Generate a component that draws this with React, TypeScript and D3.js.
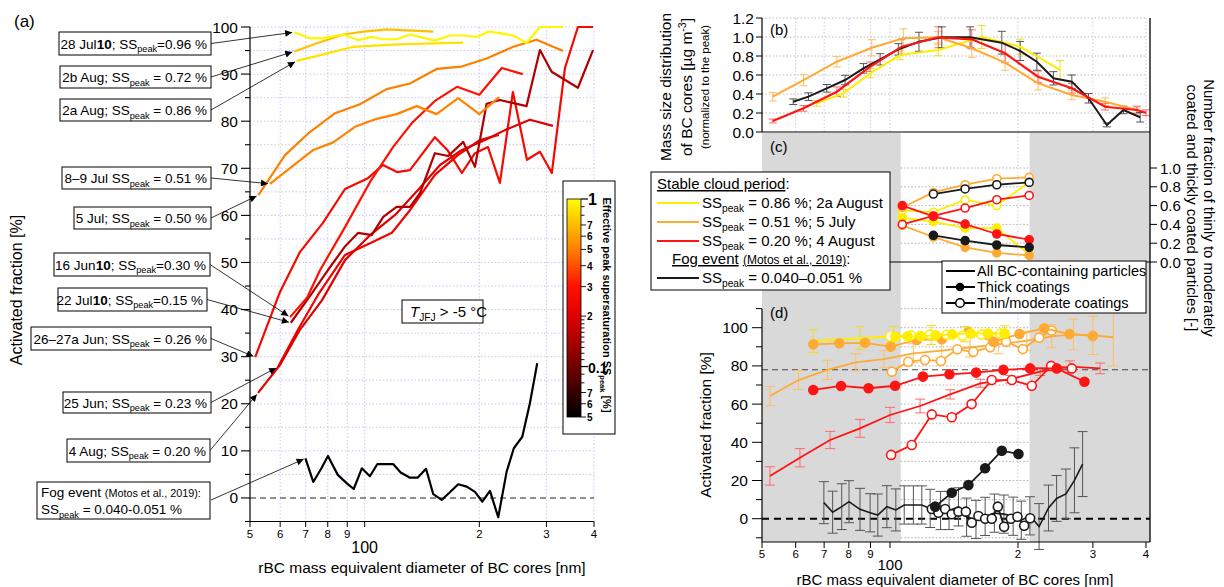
import React from "react";
import * as d3 from "d3";

type Pt = [number, number];

// ---------- (a) activated fraction [%] vs rBC core diameter [nm], one array per event
const jul28_10: Pt[] = [[65.3,98.9],[71.1,97.7],[77.1,97.6],[87.9,98.4],[96.2,97.2],[104.3,97.9],[111.9,97.4],[121.3,97.4],[131.5,98.4],[141.1,97.8],[152.9,97.1],[167.4,98.2],[181.5,98.2],[196.8,97.9],[211.2,99.0],[226.5,98.7],[245.5,98.2],[266,96.6],[288.5,100],[332,100]];
const aug2b: Pt[] = [[65.3,94.8],[74.7,96.5],[87.9,98.4],[99.2,99.0],[114.2,99.5],[151.4,99.0]];
const aug2a: Pt[] = [[66.3,92.8],[77.9,94.2],[93.4,95.8],[121.3,96.3],[181.5,96.7]];
const jul5: Pt[] = [[52.6,64.3],[61.8,72.8],[71.1,77.4],[83.6,81.7],[97.2,83.6],[114.2,86.8],[131.5,88.0],[154.5,91.1],[179.7,91.6],[209,93.3],[245.5,95.8],[282.7,97.3],[332,94.9]];
const jul8_9: Pt[] = [[56.4,66.7],[73.3,73.9],[82.7,75.5],[94.3,78.8],[107.5,80.5],[121.3,81.5],[137,83.2],[154.5,81.5],[176,84.9],[200,81.5],[225.4,85.1]];
const jun16_10: Pt[] = [[63.7,38.4],[70.6,42.5],[76.4,48.4],[88.8,57.5],[103.3,67.1],[118.7,74.5],[133,79.6],[152.9,84.3],[174.7,87.3],[200,85.6],[229,91.3],[260,90.0]];
const jul22_10: Pt[] = [[64,37.2],[71.9,42.9],[80.1,48.4],[88.8,53.4],[96.2,56.3],[104.3,55.8],[111.9,59.7],[121.3,61.8],[131.5,61.8],[139.7,64.7],[152.9,73.2],[165.7,72.6],[181.5,75.6],[194.8,70.3],[209,83.7],[226.5,84.5],[266,83.2],[288.5,95.1],[309.6,90.5],[363,87.1],[397.6,95.1]];
const jun26_27a: Pt[] = [[51.6,29.9],[59.9,43.7],[67.6,52.2],[77.7,58.4],[88.8,65.6],[102,67.9],[111.7,70.7],[121.6,69.2],[131.5,69.6],[152.9,76.6],[165.5,73.7],[180,69.0],[194.8,73.2],[210.7,74.5],[226.5,66.9],[245,86.2],[266.7,71.8],[288.5,73.5],[310,69.0],[335.6,91.3],[362.9,100],[397.6,100]];
const jun25: Pt[] = [[59.2,27.8],[66.8,35.7],[75.4,43.1],[88.8,51.6],[103.3,54.1],[117.9,56.3],[131.5,61.1],[152.9,68.6],[175.7,72.8],[200.8,76.0],[225,77.1]];
const aug4: Pt[] = [[52.5,22.3],[59.9,28.2],[67.6,35.7],[77.3,42.0],[88.8,50.5],[103.3,55.8],[120.2,60.1],[138,65.4],[157.7,70.7],[180,73.9],[207,76.0],[233.5,78.1],[271.5,80.3],[312,79.0]];
const fog: Pt[] = [[69.9,8.4],[73.3,3.4],[77,6.3],[80.1,8.9],[85,4.9],[89.8,3.1],[93.6,1.9],[98.3,6.3],[103.2,4.6],[108,7.2],[113.5,7.2],[118.8,7.2],[124.3,5.4],[131.5,4.3],[137.7,4.3],[144.9,6.2],[151.4,0.8],[159.3,-0.4],[167.4,1.2],[176,2.9],[185.3,2.4],[194.8,1.3],[203.6,-0.8],[213.3,1.5],[224.2,-4.1],[235.9,5.6],[246.5,10.6],[259.3,13.0],[271.5,20.1],[283.8,28.6]];
const fogErr = [11,11,12,11,11,10,11,11,11,10,10,10,10,10,10,10,10,10,10,10,10,10,10,10,12,12,12,13,17,17];

// effective peak supersaturation of each event [%]
const eventSeries = [jun26_27a, jun25, aug4, jul22_10, jun16_10, jul8_9, jul5, aug2b, aug2a, jul28_10, fog];
const eventSS = [0.26, 0.23, 0.20, 0.15, 0.30, 0.51, 0.50, 0.72, 0.86, 0.96, 0.045];

// ---------- (b) normalized mass size distribution
const bOrange: Pt[] = [[53,0.372],[62.6,0.547],[75,0.74],[90.6,0.887],[107.5,0.986],[129.8,0.997],[155.7,0.881],[186.5,0.73],[223,0.513],[267.7,0.39],[320.6,0.319],[380.8,0.232]];
const bOrangeErr = [0.045,0.06,0.055,0.085,0.1,0.06,0.095,0.08,0.07,0.05,0.04,0.03];
const bBlack: Pt[] = [[59.2,0.319],[64.3,0.372],[71,0.46],[78.4,0.547],[86.6,0.67],[94.8,0.765],[104.6,0.87],[117,0.95],[132.4,0.997],[154.3,0.997],[183.2,0.94],[202.3,0.853],[221.5,0.74],[242.3,0.565],[267.7,0.53],[293,0.355],[323.6,0.074],[354,0.232],[387.6,0.155]];
const bBlackErr = [0.03,0.04,0.04,0.05,0.05,0.06,0.06,0.1,0.11,0.11,0.12,0.1,0.09,0.07,0.07,0.05,0.02,0.04,0.05];
const bRed: Pt[] = [[53,0.116],[62.6,0.249],[75,0.424],[89.8,0.687],[106.6,0.898],[129.9,0.997],[155.7,0.976],[186.5,0.828],[223,0.582],[267.7,0.46],[320.6,0.266],[380.8,0.232],[400,0.203]];
const bRedErr = [0.02,0.03,0.05,0.05,0.08,0.11,0.1,0.1,0.06,0.05,0.035,0.04,0.03];
const bYellow: Pt[] = [[67.3,0.302],[77.7,0.407],[90,0.62],[105.6,0.81],[129.9,0.863],[164.4,1.0],[202.3,0.898],[251.2,0.653]];
const bYellowErr = [0.03,0.04,0.05,0.05,0.06,0.12,0.08,0.1];

// ---------- (c) number fraction of thin / thick coated particles
const cDiam = [106.9, 126.5, 150.2, 178.3, 212.5];
const cYellowThick = [0.47, 0.43, 0.36, 0.36, 0.08];
const cYellowThin = [0.55, 0.53, 0.66, 0.60, 0.85];
const cOrangeThick = [0.39, 0.266, 0.156, 0.096, 0.07];
const cOrangeThin = [0.58, 0.74, 0.822, 0.886, 0.9];
const cRedThick = [0.6, 0.485, 0.404, 0.298, 0.237];
const cRedThin = [0.4, 0.49, 0.574, 0.663, 0.708];
const cBlackThick = [null, 0.283, 0.227, 0.181, 0.156];
const cBlackThin = [null, 0.723, 0.777, 0.822, 0.847];

// ---------- (d) activated fraction per coating class
const dYellowAll: Pt[] = [[66,93],[85,94.5],[102,95.5],[125,96.2],[150,96.6],[186,97]];
const dYellowAllErr = [6,6,5,5,4,4];
const dYellowThick: Pt[] = [[103,95.2],[110,95.5],[118,95.6],[128,96],[140,96.5],[155,97],[170,97],[186,97]];
const dYellowThin: Pt[] = [[100,95.5],[112,96],[124,96.4],[136,96.3],[148,95.8],[164,96.5],[182,97]];
const dOrangeAll: Pt[] = [[52.2,64.2],[60.9,72.6],[71.3,77.9],[83.1,81.9],[96.8,83.5],[113.5,86.6],[132.4,88],[154.3,89.7],[179.8,91.3],[209.8,93.2],[240,95.5],[270,96.5],[300,96],[335,95]];
const dOrangeAllErr = [5,5,5,4.5,4.5,5,5,5,5,5,6,8,10,15];
const dOrangeThick: Pt[] = [[66,91.3],[76,91.8],[87.4,92.1],[100.4,90.1],[115.6,93.6],[132.4,93.9],[152.9,97.6],[175,92.7],[201.6,96.7],[230.4,99.7],[264.3,96.7],[300,95.7]];
const dOrangeThin: Pt[] = [[101,77],[110.4,82.2],[120.9,83.1],[131.7,82.6],[144,88.7],[157,87.4],[172,89.7],[187.5,92.7],[205.3,88.8],[224.3,94.8],[240,98.5]];
const dRedAll: Pt[] = [[52.2,22.4],[61.4,31.9],[72.3,41.2],[85,47.3],[100,54.3],[117.7,59],[138.5,65.1],[163,70.9],[191.7,73],[225.5,77],[265,79.6],[312,78.7]];
const dRedAllErr = [4.8,4.8,4.5,4.7,4,3.6,2.4,2.1,2,2,3,2.8];
const dRedThick: Pt[] = [[66,67.4],[76.7,69.5],[89,68.3],[102.8,69.6],[119.5,74.4],[138,75.6],[159.4,76.5],[184.8,77.9],[213.6,78.7],[246.8,78.7],[286.6,71.7]];
const dRedThin: Pt[] = [[100.6,33.4],[112.5,38.6],[125.4,54.6],[139.7,53.1],[155.6,60],[173.5,72.6],[193.4,72.6],[215.5,69.6],[239.3,80],[267.6,78.7]];
const dFogThick: Pt[] = [[127.7,6.3],[139.7,13.6],[152.9,17.6],[167.4,26.4],[183.2,35.6],[200.5,33.9]];
const dFogThin: Pt[] = [[125.4,5.1],[130,3.1],[134.8,5.1],[139.7,2.3],[144.9,3.7],[150.8,3.7],[155.7,-2.1],[161.4,1.4],[167.4,0],[173.5,0],[179.3,6.3],[185.5,-4.2],[192.4,0],[199.4,1],[206.8,-3.7],[213.6,0.2]];

// axis ticks
const xTicks = [50, 60, 70, 80, 90, 100, 200, 300, 400];
const xTickLabels = ["5", "6", "7", "8", "9", "", "2", "3", "4"];
const stableBand = [106, 213]; // unshaded diameter range in (c)/(d)

const FONT = "Liberation Sans, Arial, Helvetica, sans-serif";
const C_YEL = "#ffee00", C_ORA = "#ffaa33", C_RED = "#ff1414", C_BLK = "#1a1a1a";
const E_YEL = "#eedd22", E_ORA = "#ffbe66", E_RED = "#ff6a6a", E_BLK = "#555";
const GRID = "#c8c8f0";

type Part = string | { t: string; sub?: boolean; sup?: boolean; b?: boolean; i?: boolean; sm?: boolean; u?: boolean };

function Rich({ x, y, parts, size = 15, anchor = "start", weight, transform, fill = "#000" }: any) {
  let shift = 0;
  const spans = (parts as Part[]).map((p, k) => {
    const o = typeof p === "string" ? { t: p } : p;
    const want = o.sub ? size * 0.28 : o.sup ? -size * 0.4 : 0;
    const dy = want - shift;
    shift = want;
    return (
      <tspan key={k} dy={dy ? dy : undefined}
        fontSize={o.sub || o.sup ? size * 0.68 : o.sm ? size * 0.8 : undefined}
        fontWeight={o.b ? "bold" : undefined}
        fontStyle={o.i ? "italic" : undefined}
        textDecoration={o.u ? "underline" : undefined}>{o.t}</tspan>
    );
  });
  return <text x={x} y={y} fontSize={size} textAnchor={anchor} fontWeight={weight} transform={transform} fill={fill}>{spans}</text>;
}

function errBars(pts: Pt[], err: number[], x: any, y: any, color: string, cap: number, key: string) {
  return pts.map((p, i) => {
    const cx = x(p[0]), y1 = y(p[1] - err[i]), y2 = y(p[1] + err[i]);
    return (
      <g key={key + i} stroke={color} strokeWidth={1}>
        <line x1={cx} x2={cx} y1={y1} y2={y2} />
        <line x1={cx - cap} x2={cx + cap} y1={y1} y2={y1} />
        <line x1={cx - cap} x2={cx + cap} y1={y2} y2={y2} />
      </g>
    );
  });
}

const SS = (rest: string): Part[] => ["SS", { t: "peak", sub: true }, rest];

export default function App() {
  // ---------- scales
  const xA = d3.scaleLog().domain([50, 400]).range([250, 594]);
  const yA = d3.scaleLinear().domain([-5, 100]).range([521.5, 27]);
  const xB = d3.scaleLog().domain([50, 400]).range([762, 1146]);
  const yB = d3.scaleLinear().domain([0, 1.2]).range([132, 18]);
  const yC = d3.scaleLinear().domain([0, 1]).range([262, 168]);
  const yD = d3.scaleLinear().domain([0, 100]).range([518.7, 327.7]);

  const ssNorm = d3.scaleLog().domain([0.05, 1]).range([0, 1]).clamp(true);
  const cmap = d3.scaleLinear<string>().domain([0, 0.231, 0.46, 0.6, 0.77, 0.89, 1])
    .range(["#000000", "#700000", "#e00000", "#ff1000", "#ff8000", "#ffc000", "#ffff00"]);
  const ssColor = (v: number) => cmap(ssNorm(v));
  const cbY = d3.scaleLog().domain([0.05, 1]).range([417, 199]);

  const lineA = d3.line<Pt>().x(d => xA(d[0])).y(d => yA(d[1]));
  const lineB = d3.line<Pt>().x(d => xB(d[0])).y(d => yB(d[1]));
  const lineD = d3.line<Pt>().x(d => xB(d[0])).y(d => yD(d[1]));
  const cPts = (vals: (number | null)[]): Pt[] =>
    cDiam.map((dd, i) => [dd, vals[i]] as any).filter(p => p[1] !== null);
  const lineC = d3.line<Pt>().x(d => xB(d[0])).y(d => yC(d[1]));

  // annotation boxes of (a): layout only, arrow targets come from the data
  const anno = [
    { s: jul28_10, box: [59, 32, 152, 23], parts: ["28 Jul", { t: "10", b: true }, "; ", ...SS("=0.96 %")] },
    { s: aug2b, box: [60, 66, 151, 22], parts: ["2b Aug; ", ...SS(" = 0.72 %")] },
    { s: aug2a, box: [60, 99, 151, 22], parts: ["2a Aug; ", ...SS(" = 0.86 %")] },
    { s: jul8_9, box: [62, 167, 149, 22], parts: ["8\u20139 Jul ", ...SS(" = 0.51 %")] },
    { s: jul5, box: [74, 207, 137, 22], parts: ["5 Jul; ", ...SS(" = 0.50 %")] },
    { s: jun16_10, box: [54, 253, 156, 23], parts: ["16 Jun", { t: "10", b: true }, "; ", ...SS("=0.30 %")] },
    { s: jul22_10, box: [58, 288, 149, 23], parts: ["22 Jul", { t: "10", b: true }, "; ", ...SS("=0.15 %")] },
    { s: jun26_27a, box: [31, 327, 180, 23], parts: ["26\u201327a Jun; ", ...SS(" = 0.26 %")] },
    { s: jun25, box: [63, 392, 148, 21], parts: ["25 Jun; ", ...SS(" = 0.23 %")] },
    { s: aug4, box: [67, 439, 143, 23], parts: ["4 Aug; ", ...SS(" = 0.20 %")] },
  ];

  const arrow = (x1: number, y1: number, p: Pt, key: string) => {
    const tx = xA(p[0]), ty = yA(p[1]);
    const dx = tx - x1, dy = ty - y1, L = Math.hypot(dx, dy);
    return <line key={key} x1={x1} y1={y1} x2={tx - (dx / L) * 2} y2={ty - (dy / L) * 2}
      stroke="#000" strokeWidth={0.8} markerEnd="url(#arr)" />;
  };

  const gridYA = d3.range(-5, 101, 5);
  const cbTicks = [0.9, 0.8, 0.7, 0.6, 0.5, 0.4, 0.3, 0.2, 0.19, 0.18, 0.17, 0.16, 0.15, 0.14, 0.13, 0.12, 0.11, 0.09, 0.08, 0.07, 0.06, 0.05];
  const cbLabels: Record<string, string> = { "0.7": "7", "0.6": "6", "0.5": "5", "0.4": "4", "0.3": "3", "0.2": "2", "0.07": "7", "0.06": "6", "0.05": "5" };

  const bandX0 = xB(stableBand[0]), bandX1 = xB(stableBand[1]);

  const circles = (pts: Pt[], y: any, color: string, open: boolean, key: string, r = 4.3) =>
    pts.map((p, i) => (
      <circle key={key + i} cx={xB(p[0])} cy={y(p[1])} r={r}
        fill={open ? "#fff" : color} stroke={color} strokeWidth={1.6} />
    ));

  return (
    <svg width={1224} height={587} viewBox="0 0 1224 587"
      style={{ position: "absolute", left: 0, top: 0, background: "#fff" }} fontFamily={FONT}>
      <defs>
        <marker id="arr" viewBox="0 0 10 10" refX={10} refY={5} markerWidth={9} markerHeight={7}
          markerUnits="userSpaceOnUse" orient="auto">
          <path d="M0,0 L10,5 L0,10 z" fill="#000" />
        </marker>
        <linearGradient id="ssgrad" x1="0" y1="1" x2="0" y2="0">
          {d3.range(0, 21).map(i => <stop key={i} offset={i / 20} stopColor={cmap(i / 20)} />)}
        </linearGradient>
      </defs>

      {/* ================= panel (a) ================= */}
      <text x={14} y={27} fontSize={17}>(a)</text>
      <g stroke={GRID} strokeWidth={1} strokeDasharray="1.5,2">
        {gridYA.filter(v => v !== 0).map(v => <line key={"gy" + v} x1={250} x2={594} y1={yA(v)} y2={yA(v)} />)}
        {xTicks.slice(1).map(v => <line key={"gx" + v} x1={xA(v)} x2={xA(v)} y1={27} y2={521.5} />)}
      </g>
      <line x1={250} x2={594} y1={yA(0)} y2={yA(0)} stroke="#222" strokeWidth={1.1} strokeDasharray="6,4" />
      {eventSeries.map((s, i) => (
        <path key={"ev" + i} d={lineA(s) || ""} fill="none" stroke={ssColor(eventSS[i])}
          strokeWidth={2.2} strokeLinejoin="round" />
      ))}
      {/* axes */}
      <line x1={250} x2={250} y1={27} y2={521.5} stroke="#000" strokeWidth={1.2} />
      <line x1={250} x2={594} y1={521.5} y2={521.5} stroke="#000" strokeWidth={1.2} />
      {gridYA.map(v => (
        <line key={"ta" + v} x1={v % 10 === 0 ? 241 : 245} x2={250} y1={yA(v)} y2={yA(v)} stroke="#000" strokeWidth={1.1} />
      ))}
      {d3.range(0, 101, 10).map(v => (
        <text key={"la" + v} x={238} y={yA(v) + 5.5} fontSize={15.5} textAnchor="end">{v}</text>
      ))}
      {xTicks.map((v, i) => (
        <g key={"xa" + v}>
          <line x1={xA(v)} x2={xA(v)} y1={521.5} y2={527} stroke="#000" />
          <text x={xA(v)} y={538} fontSize={11.5} textAnchor="middle">{xTickLabels[i]}</text>
        </g>
      ))}
      <text x={xA(100)} y={553} fontSize={16} textAnchor="middle">100</text>
      <text x={422} y={573} fontSize={15.5} textAnchor="middle">rBC mass equivalent diameter of BC cores [nm]</text>
      <text transform="translate(22,290) rotate(-90)" fontSize={16} textAnchor="middle">Activated fraction [%]</text>

      {/* annotation boxes */}
      {anno.map((a, i) => {
        const [bx, by, bw, bh] = a.box;
        return (
          <g key={"an" + i}>
            {arrow(bx + bw, by + bh / 2, a.s[0], "ar" + i)}
            <rect x={bx} y={by} width={bw} height={bh} fill="#fff" stroke="#000" strokeWidth={1} />
            <Rich x={bx + bw - 4} y={by + bh / 2 + 5} parts={a.parts} size={13.5} anchor="end" />
          </g>
        );
      })}
      {arrow(211, 500, fog[0], "arfog")}
      <rect x={37} y={482} width={173} height={37} fill="#fff" stroke="#000" />
      <Rich x={41} y={497} size={13.5} parts={["Fog event ", { t: "(Motos et al., 2019):", sm: true }]} />
      <Rich x={41} y={514} size={13.5} parts={SS(" = 0.040-0.051 %")} />

      {/* temperature box */}
      <rect x={402} y={300} width={81} height={23} fill="#fff" stroke="#000" />
      <Rich x={410} y={317} size={15} parts={[{ t: "T", i: true }, { t: "JFJ", sub: true }, " > -5 \u00b0C"]} />

      {/* colour bar */}
      <rect x={563} y={181} width={52} height={253} fill="#fff" stroke="#000" />
      <rect x={567} y={199} width={14} height={218} fill="url(#ssgrad)" stroke="#000" strokeWidth={0.8} />
      {[1, 0.1].map(v => (
        <g key={"cbm" + v}>
          <line x1={581} x2={588} y1={cbY(v)} y2={cbY(v)} stroke="#000" strokeWidth={1.2} />
          <text x={588} y={cbY(v) + 6} fontSize={v === 1 ? 16 : 14} fontWeight="bold">{v === 1 ? "1" : "0.1"}</text>
        </g>
      ))}
      {cbTicks.map(v => (
        <g key={"cbt" + v}>
          <line x1={581} x2={cbLabels[String(v)] ? 586 : 584.5} y1={cbY(v)} y2={cbY(v)} stroke="#000" strokeWidth={0.9} />
          {cbLabels[String(v)] && <text x={587} y={cbY(v) + 4} fontSize={10} fontWeight="bold">{cbLabels[String(v)]}</text>}
        </g>
      ))}
      <Rich transform="translate(603,305) rotate(90)" x={0} y={0} size={11} weight="bold" anchor="middle"
        parts={["Effective peak supersaturation SS", { t: "peak", sub: true }, " [%]"]} />

      {/* ================= panels (c)/(d) shading ================= */}
      <rect x={762} y={133} width={bandX0 - 762} height={409} fill="#d9d9d9" />
      <rect x={bandX1} y={133} width={1150 - bandX1} height={409} fill="#d9d9d9" />
      <g stroke="#9a9a9a" strokeWidth={0.8} strokeDasharray="1.5,2">
        {[0.2, 0.4, 0.6, 0.8, 1.0].map(v => <line key={"gc" + v} x1={bandX0} x2={bandX1} y1={yC(v)} y2={yC(v)} />)}
        {d3.range(-10, 111, 10).map(v => <line key={"gd" + v} x1={bandX0} x2={bandX1} y1={yD(v)} y2={yD(v)} />)}
      </g>
      <line x1={xB(200)} x2={xB(200)} y1={133} y2={542} stroke={GRID} strokeDasharray="1.5,2" />

      {/* ================= panel (b) ================= */}
      <g stroke="#aaa" strokeWidth={0.8} strokeDasharray="1.5,2">
        {[0.2, 0.4, 0.6, 0.8, 1.0, 1.2].map(v => <line key={"gb" + v} x1={762} x2={1146} y1={yB(v)} y2={yB(v)} />)}
      </g>
      <g stroke={GRID} strokeWidth={1} strokeDasharray="1.5,2">
        {xTicks.slice(1).map(v => <line key={"gbx" + v} x1={xB(v)} x2={xB(v)} y1={18} y2={132} />)}
      </g>
      {errBars(bOrange, bOrangeErr, xB, yB, E_ORA, 4, "ebo")}
      {errBars(bYellow, bYellowErr, xB, yB, E_YEL, 4, "eby")}
      {errBars(bRed, bRedErr, xB, yB, E_RED, 4, "ebr")}
      {errBars(bBlack, bBlackErr, xB, yB, E_BLK, 4, "ebk")}
      <path d={lineB(bYellow) || ""} fill="none" stroke={C_YEL} strokeWidth={2} />
      <path d={lineB(bOrange) || ""} fill="none" stroke={C_ORA} strokeWidth={2} />
      <path d={lineB(bBlack) || ""} fill="none" stroke={C_BLK} strokeWidth={2} />
      <path d={lineB(bRed) || ""} fill="none" stroke={C_RED} strokeWidth={2.2} />
      <line x1={762} x2={762} y1={18} y2={132} stroke="#000" strokeWidth={1.2} />
      <line x1={762} x2={1150} y1={132} y2={132} stroke="#000" strokeWidth={1.2} />
      {[0, 0.2, 0.4, 0.6, 0.8, 1.0, 1.2].map(v => (
        <g key={"tb" + v}>
          <line x1={756} x2={762} y1={yB(v)} y2={yB(v)} stroke="#000" />
          <text x={754} y={yB(v) + 5.5} fontSize={15.5} textAnchor="end">{v.toFixed(1)}</text>
        </g>
      ))}
      <text x={770} y={35} fontSize={15}>(b)</text>
      <text transform="translate(671,87) rotate(-90)" fontSize={15.5} textAnchor="middle">Mass size distribution</text>
      <Rich transform="translate(692,87) rotate(-90)" x={0} y={0} size={15.5} anchor="middle"
        parts={["of BC cores [\u00b5g m", { t: "-3", sup: true }, { t: "]" }]} />
      <text transform="translate(709,87) rotate(-90)" fontSize={11.5} textAnchor="middle">(normalized to the peak)</text>

      {/* ================= panel (c) ================= */}
      <text x={770} y={152} fontSize={15}>(c)</text>
      <line x1={762} x2={1150} y1={262} y2={262} stroke="#000" strokeWidth={1.2} />
      {([
        [cYellowThin, C_YEL, true], [cYellowThick, C_YEL, false],
        [cOrangeThin, C_ORA, true], [cOrangeThick, C_ORA, false],
        [cRedThin, C_RED, true], [cRedThick, C_RED, false],
        [cBlackThin, C_BLK, true], [cBlackThick, C_BLK, false],
      ] as any[]).map(([vals, col, open], i) => (
        <g key={"cs" + i}>
          <path d={lineC(cPts(vals)) || ""} fill="none" stroke={col} strokeWidth={1.8} />
          {circles(cPts(vals), yC, col, open, "cc" + i, 4)}
        </g>
      ))}
      <line x1={1150} x2={1150} y1={18} y2={542} stroke="#000" strokeWidth={1.3} />
      {[0, 0.2, 0.4, 0.6, 0.8, 1.0].map(v => (
        <g key={"tc" + v}>
          <line x1={1150} x2={1157} y1={yC(v)} y2={yC(v)} stroke="#000" />
          <text x={1160} y={yC(v) + 5.5} fontSize={15}>{v.toFixed(1)}</text>
        </g>
      ))}
      <text transform="translate(1204,208) rotate(90)" fontSize={15} textAnchor="middle">Number fraction of thinly to moderately</text>
      <text transform="translate(1187,208) rotate(90)" fontSize={15} textAnchor="middle">coated and thickly coated particles [-]</text>

      {/* ================= panel (d) ================= */}
      <text x={770} y={318} fontSize={15}>(d)</text>
      <line x1={762} x2={1150} y1={yD(78)} y2={yD(78)} stroke="#444" strokeWidth={1.1} strokeDasharray="6,4" />
      <line x1={762} x2={1150} y1={yD(0)} y2={yD(0)} stroke="#000" strokeWidth={2} strokeDasharray="7,5" />
      {errBars(dOrangeAll, dOrangeAllErr, xB, yD, E_ORA, 5, "edo")}
      {errBars(dYellowAll, dYellowAllErr, xB, yD, E_YEL, 5, "edy")}
      {errBars(dRedAll, dRedAllErr, xB, yD, E_RED, 5, "edr")}
      {errBars(fog, fogErr, xB, yD, E_BLK, 5, "edk")}
      <path d={lineD(dOrangeAll) || ""} fill="none" stroke={C_ORA} strokeWidth={1.8} />
      <path d={lineD(dRedAll) || ""} fill="none" stroke={C_RED} strokeWidth={1.8} />
      <path d={lineD(fog) || ""} fill="none" stroke={C_BLK} strokeWidth={1.6} />
      <path d={lineD(dYellowAll) || ""} fill="none" stroke={C_YEL} strokeWidth={2} />
      {([
        [dOrangeThin, C_ORA, true], [dOrangeThick, C_ORA, false],
        [dRedThin, C_RED, true], [dRedThick, C_RED, false],
        [dFogThin, C_BLK, true], [dFogThick, C_BLK, false],
        [dYellowThin, C_YEL, true], [dYellowThick, C_YEL, false],
      ] as any[]).map(([pts, col, open], i) => (
        <g key={"ds" + i}>
          <path d={lineD(pts) || ""} fill="none" stroke={col} strokeWidth={1.8} />
          {circles(pts, yD, col, open, "dc" + i, 4.5)}
        </g>
      ))}
      <line x1={762} x2={762} y1={309} y2={542} stroke="#000" strokeWidth={1.2} />
      <line x1={762} x2={1150} y1={542} y2={542} stroke="#000" strokeWidth={1.2} />
      {d3.range(-10, 111, 10).map(v => (
        <line key={"td" + v} x1={v % 20 === 0 ? 752 : 756} x2={762} y1={yD(v)} y2={yD(v)} stroke="#000" />
      ))}
      {d3.range(0, 101, 20).map(v => (
        <text key={"ld" + v} x={748} y={yD(v) + 5.5} fontSize={15.5} textAnchor="end">{v}</text>
      ))}
      {xTicks.map((v, i) => (
        <g key={"xd" + v}>
          <line x1={xB(v)} x2={xB(v)} y1={542} y2={548} stroke="#000" />
          <text x={xB(v)} y={558} fontSize={11.5} textAnchor="middle">{xTickLabels[i]}</text>
        </g>
      ))}
      <text x={xB(100)} y={570} fontSize={15} textAnchor="middle">100</text>
      <text x={955} y={585} fontSize={15} textAnchor="middle">rBC mass equivalent diameter of BC cores [nm]</text>
      <text transform="translate(711,425) rotate(-90)" fontSize={15.5} textAnchor="middle">Activated fraction [%]</text>

      {/* legends of (c) */}
      <rect x={651} y={172} width={239} height={118} fill="#fff" stroke="#000" />
      <Rich x={657} y={189} size={15} parts={[{ t: "Stable cloud period", u: true }, ":"]} />
      {([[C_YEL, " = 0.86 %; 2a August", 203], [C_ORA, " = 0.51 %; 5 July", 222], [C_RED, " = 0.20 %; 4 August", 241]] as any[]).map(([col, txt, yy], i) => (
        <g key={"lg" + i}>
          <line x1={657} x2={699} y1={yy} y2={yy} stroke={col} strokeWidth={2} />
          <Rich x={702} y={yy + 5} size={15} parts={SS(txt)} />
        </g>
      ))}
      <Rich x={672} y={264} size={15} parts={[{ t: "Fog event", u: true }, " ", { t: "(Motos et al., 2019)", u: true, sm: true }, ":"]} />
      <line x1={657} x2={699} y1={278} y2={278} stroke={C_BLK} strokeWidth={2} />
      <Rich x={702} y={283} size={15} parts={SS(" = 0.040\u20130.051 %")} />

      <rect x={942} y={261} width={204} height={52} fill="#fff" stroke="#000" />
      <line x1={946} x2={975} y1={271} y2={271} stroke="#000" strokeWidth={2} />
      <text x={977} y={276} fontSize={14.5}>All BC-containing particles</text>
      <line x1={946} x2={975} y1={287} y2={287} stroke="#000" strokeWidth={2} />
      <circle cx={960} cy={287} r={4.3} fill="#000" />
      <text x={977} y={292} fontSize={14.5}>Thick coatings</text>
      <line x1={946} x2={975} y1={303} y2={303} stroke="#000" strokeWidth={2} />
      <circle cx={960} cy={303} r={4.3} fill="#fff" stroke="#000" strokeWidth={1.6} />
      <text x={977} y={308} fontSize={14.5}>Thin/moderate coatings</text>
    </svg>
  );
}
